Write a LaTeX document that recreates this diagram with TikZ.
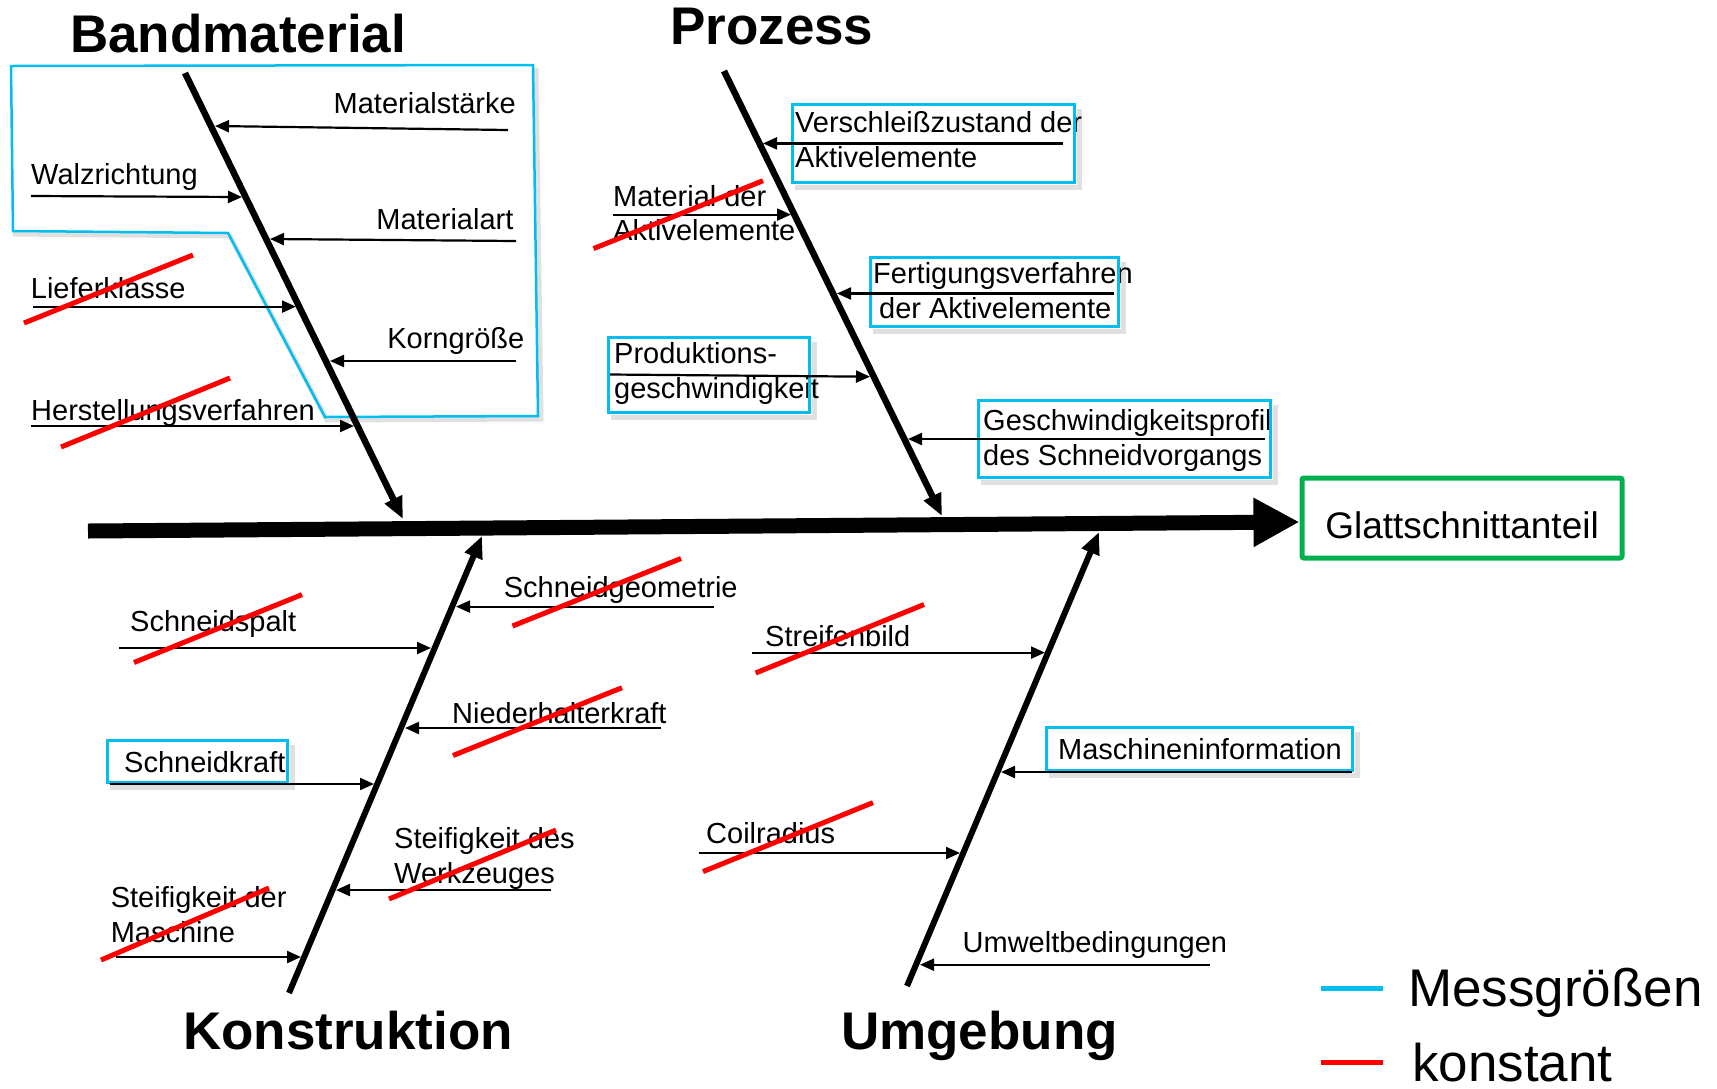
\documentclass[tikz,border=0pt]{standalone}
\usepackage{fontspec}
\setmainfont{Liberation Sans}
\usetikzlibrary{arrows.meta,calc,fit}
\definecolor{mblue}{RGB}{0,190,240}
\definecolor{kred}{RGB}{255,0,0}
\definecolor{ggreen}{RGB}{0,176,80}
\begin{document}
\begin{tikzpicture}[x=1pt,y=-1pt,
  lbl/.style={inner sep=0pt, font=\fontsize{29}{35}\selectfont},
  head/.style={inner sep=0pt, font=\fontsize{53}{60}\selectfont\bfseries},
  legtxt/.style={inner sep=0pt, font=\fontsize{53}{60}\selectfont},
  bone/.style={line width=6.5pt, -{Triangle[length=22pt,width=18pt]}},
  spine/.style={line width=15pt, -{Triangle[length=46pt,width=46pt]}},
  branch/.style={line width=2.2pt, -{Triangle[length=14pt,width=12pt]}},
  strike/.style={kred, line width=5pt},
  mbox/.style={draw=mblue, line width=3pt, inner sep=0pt},
  mline/.style={draw=mblue, line width=2.5pt},
  shade/.style={draw=black, opacity=0.12, line width=5pt},
]
\useasboundingbox (0,0) rectangle (1717,1088);

% ---------- blue measurement outlines ----------
\draw[shade] (13,234) -- (230,236) -- (327,420) -- (541,419) -- (536,68);
\draw[mline] (11,66) -- (533,65) -- (538,416) -- (325,417) -- (228,233) -- (13,231) -- cycle;

% ---------- result box ----------
\node[draw=ggreen, line width=5pt, rounded corners=2pt, minimum width=320pt, minimum height=80pt,
      text height=40pt, text depth=0pt, inner sep=0pt,
      font=\fontsize{37}{40}\selectfont] (glatt) at (1462,518) {Glattschnittanteil};

% ---------- spine ----------
\coordinate (spL) at (88,531);
\draw[spine] (spL) -- ($(glatt.west)+(0,4)$);

% ---------- main bones ----------
\coordinate (bmA) at (185,73);   \coordinate (bmB) at (403,519);
\coordinate (prA) at (724,71);   \coordinate (prB) at (942,516);
\coordinate (koA) at (289,993);  \coordinate (koB) at (482,536);
\coordinate (umA) at (907,986);  \coordinate (umB) at (1099,532);
\draw[bone] (bmA) -- (bmB);
\draw[bone] (prA) -- (prB);
\draw[bone, line width=6pt] (koA) -- (koB);
\draw[bone, line width=6pt] (umA) -- (umB);

% ---------- headings ----------
\node[head, anchor=base west] (hBand) at (70,52.5) {Bandmaterial};
\node[head, anchor=base west] (hProz) at (670,44) {Prozess};
\node[head, anchor=base west] (hKons) at (183,1049) {Konstruktion};
\node[head, anchor=base west] (hUmg)  at (841,1049) {Umgebung};

% ---------- Bandmaterial branches ----------
\node[lbl, anchor=base east] (mst) at (516,113) {Materialstärke};
\node[lbl, anchor=base west] (wal) at (31,184) {Walzrichtung};
\node[lbl, anchor=base east] (mart) at (513.6,229) {Materialart};
\node[lbl, anchor=base west] (lief) at (30.7,298) {Lieferklasse};
\node[lbl, anchor=base east] (korn) at (524.5,348) {Korngröße};
\node[lbl, anchor=base west] (herst) at (31,420.5) {Herstellungsverfahren};

\coordinate (s1) at (508,130);  \coordinate (e1) at (215,126);
\coordinate (s2) at (31,196);   \coordinate (e2) at (242,197);
\coordinate (s3) at (516,241);  \coordinate (e3) at (270,239);
\coordinate (s4) at (33,306.6); \coordinate (e4) at (296,306.6);
\coordinate (s5) at (516,361);  \coordinate (e5) at (330,361);
\coordinate (s6) at (31,426);   \coordinate (e6) at (354,426);
\foreach \i in {1,...,6} \draw[branch] (s\i) -- (e\i);

% ---------- Prozess branches ----------
\node[lbl, anchor=base west] (ver1) at (795,132.5) {Verschleißzustand der};
\node[lbl, anchor=base west] (ver2) at (795,167.5) {Aktivelemente};
\node[lbl, anchor=base west] (mat1) at (613,206) {Material der};
\node[lbl, anchor=base west] (mat2) at (613,240) {Aktivelemente};
\node[lbl, anchor=base west] (fer1) at (873,283.6) {Fertigungsverfahren};
\node[lbl, anchor=base west] (fer2) at (879,318.6) {der Aktivelemente};
\node[lbl, anchor=base west] (pro1) at (614,363.5) {Produktions-};
\node[lbl, anchor=base west] (pro2) at (614,398.6) {geschwindigkeit};
\node[lbl, anchor=base west] (ges1) at (983,430) {Geschwindigkeitsprofil};
\node[lbl, anchor=base west] (ges2) at (983,465) {des Schneidvorgangs};

\node[mbox, fit={(792,104) (1074,182)}] (vbox) {};
\node[mbox, fit={(870.5,257) (1118,326)}] (fbox) {};
\node[mbox, fit={(608,337) (809,412)}] (pbox) {};
\node[mbox, fit={(978,400) (1270,477)}] (gbox) {};

\coordinate (s7) at (1063,143.4);  \coordinate (e7) at (763,143.4);
\coordinate (s8) at (613,214.6);   \coordinate (e8) at (791,214.6);
\coordinate (s9) at (1113.6,293.5);\coordinate (e9) at (837,293.5);
\coordinate (s10) at (610,374.5);  \coordinate (e10) at (870,376.7);
\coordinate (s11) at (1265,439);   \coordinate (e11) at (908,439);
\foreach \i in {7,...,11} \draw[branch] (s\i) -- (e\i);

% ---------- Konstruktion branches ----------
\node[lbl, anchor=base west] (sgeo) at (503.7,597) {Schneidgeometrie};
\node[lbl, anchor=base west] (sspa) at (130,631) {Schneidspalt};
\node[lbl, anchor=base west] (nied) at (452,723) {Niederhalterkraft};
\node[lbl, anchor=base west] (skra) at (124,772) {Schneidkraft};
\node[lbl, anchor=base west] (stw1) at (394,848.6) {Steifigkeit des};
\node[lbl, anchor=base west] (stw2) at (394,883.7) {Werkzeuges};
\node[lbl, anchor=base west] (stm1) at (110.6,907.8) {Steifigkeit der};
\node[lbl, anchor=base west] (stm2) at (110.6,942.8) {Maschine};
\node[mbox, fit={(107,740) (287,782)}] (skbox) {};

\coordinate (s12) at (714,606.6);  \coordinate (e12) at (456,606.6);
\coordinate (s13) at (119,648);    \coordinate (e13) at (431,648);
\coordinate (s14) at (661,728);    \coordinate (e14) at (405,728);
\coordinate (s15) at (109.5,784);  \coordinate (e15) at (374,784);
\coordinate (s16) at (551,890);    \coordinate (e16) at (336,890);
\coordinate (s17) at (116,957);    \coordinate (e17) at (301,957);
\foreach \i in {12,...,17} \draw[branch] (s\i) -- (e\i);

% ---------- Umgebung branches ----------
\node[lbl, anchor=base west] (stre) at (765,646) {Streifenbild};
\node[lbl, anchor=base west] (masch) at (1058,759) {Maschineninformation};
\node[lbl, anchor=base west] (coil) at (706,843) {Coilradius};
\node[lbl, anchor=base west] (umw) at (962.5,952.7) {Umweltbedingungen};
\node[mbox, fit={(1046,727) (1352,770)}] (mabox) {};

\coordinate (s18) at (752,652.6);  \coordinate (e18) at (1045,652.6);
\coordinate (s19) at (1352,772);   \coordinate (e19) at (1001,772);
\coordinate (s20) at (698.6,853);  \coordinate (e20) at (960,853);
\coordinate (s21) at (1210,964.7); \coordinate (e21) at (920,964.7);
\foreach \i in {18,...,21} \draw[branch] (s\i) -- (e\i);

% ---------- soft shadows of the blue boxes ----------
\foreach \b in {vbox,fbox,pbox,gbox,skbox,mabox}
  \draw[shade] ($(\b.south west)+(4,4)$) -- ($(\b.south east)+(4,4)$) -- ($(\b.north east)+(4,6)$);

% ---------- red strike-throughs (konstant) ----------
\draw[strike] (24,323) -- (193,255);
\draw[strike] (61,447) -- (230,378);
\draw[strike] (593.5,248.6) -- (763,180.7);
\draw[strike] (134,662.5) -- (302,594.6);
\draw[strike] (512.5,626) -- (681,558.5);
\draw[strike] (453,755.5) -- (622,687.7);
\draw[strike] (389,899) -- (556,830);
\draw[strike] (101,960) -- (269,888);
\draw[strike] (755.6,673) -- (924,604.5);
\draw[strike] (703,871.6) -- (873,802.6);

% ---------- legend ----------
\coordinate (lb1) at (1321,988);  \coordinate (lb2) at (1383,988);
\coordinate (lr1) at (1321,1062); \coordinate (lr2) at (1383,1062);
\draw[mblue, line width=5pt] (lb1) -- (lb2);
\draw[kred, line width=5pt] (lr1) -- (lr2);
\node[legtxt, anchor=base west] (legM) at (1408,1006) {Messgrößen};
\node[legtxt, anchor=base west] (legK) at (1412,1081) {konstant};
\end{tikzpicture}
\end{document}
